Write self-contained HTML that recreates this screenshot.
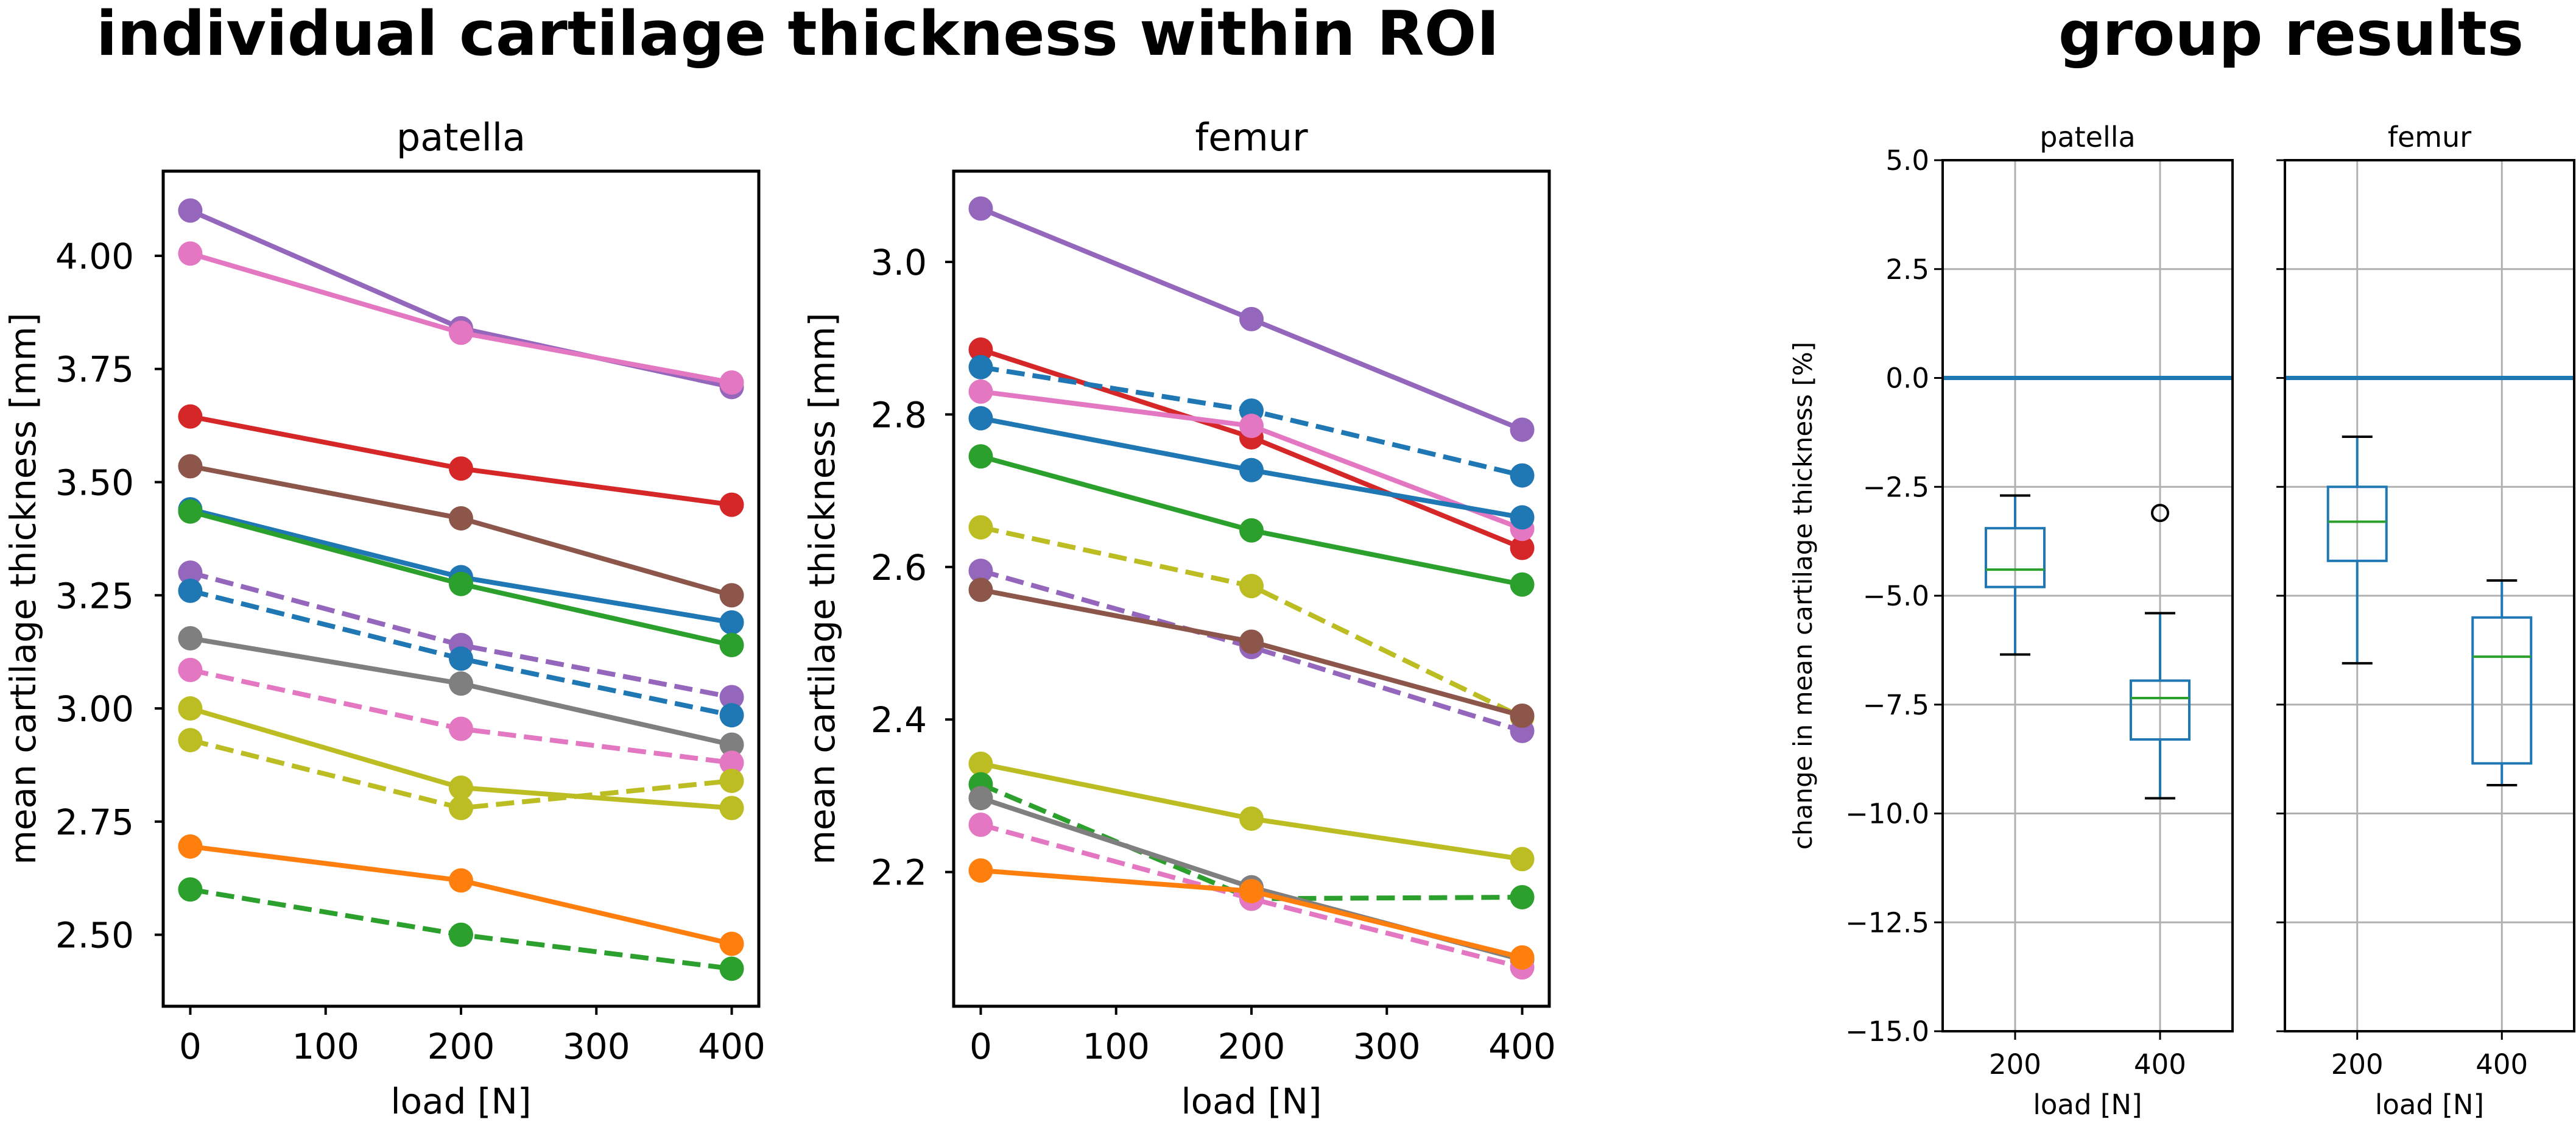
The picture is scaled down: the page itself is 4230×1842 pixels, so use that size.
<!DOCTYPE html>
<html><head><meta charset="utf-8"><style>
html,body{margin:0;padding:0;background:#fff}
svg{display:block;font-family:"DejaVu Sans","Liberation Sans",sans-serif}
</style></head><body>
<svg id="fig" width="4230" height="1842" viewBox="0 0 4230 1842" xmlns="http://www.w3.org/2000/svg">
<text x="1310" y="90" font-size="101" font-weight="bold" text-anchor="middle">individual cartilage thickness within ROI</text>
<text x="3762" y="90" font-size="101" font-weight="bold" text-anchor="middle">group results</text>
</svg>
<script>
const loads = [0, 200, 400];
const xTicks = [0, 100, 200, 300, 400];
const seriesNames = ["purple-solid","pink-solid","red","brown","blue-solid","green-solid","purple-dashed","blue-dashed","gray","pink-dashed","olive-solid","olive-dashed","orange","green-dashed"];
const seriesColors = ["#9467bd","#e377c2","#d62728","#8c564b","#1f77b4","#2ca02c","#9467bd","#1f77b4","#7f7f7f","#e377c2","#bcbd22","#bcbd22","#ff7f0e","#2ca02c"];
const seriesDashed = [false,false,false,false,false,false,true,true,false,true,false,true,false,true];
const patellaValues = [
 [4.10,3.84,3.71],[4.005,3.83,3.72],[3.645,3.53,3.45],[3.535,3.42,3.25],
 [3.44,3.29,3.19],[3.435,3.275,3.14],[3.30,3.14,3.025],[3.26,3.11,2.985],
 [3.155,3.055,2.92],[3.085,2.955,2.88],[3.00,2.825,2.78],[2.93,2.78,2.84],
 [2.695,2.62,2.48],[2.60,2.50,2.425]];
const femurSeriesNames = ["purple-solid","red","blue-dashed","pink-solid","blue-solid","green-solid","olive-dashed","purple-dashed","brown","olive-solid","green-dashed","gray","pink-dashed","orange"];
const femurColors = ["#9467bd","#d62728","#1f77b4","#e377c2","#1f77b4","#2ca02c","#bcbd22","#9467bd","#8c564b","#bcbd22","#2ca02c","#7f7f7f","#e377c2","#ff7f0e"];
const femurDashed = [false,false,true,false,false,false,true,true,false,false,true,false,true,false];
const femurValues = [
 [3.07,2.925,2.78],[2.885,2.77,2.625],[2.862,2.805,2.72],[2.83,2.785,2.65],
 [2.795,2.727,2.665],[2.745,2.648,2.577],[2.652,2.575,2.403],[2.595,2.495,2.385],
 [2.57,2.502,2.405],[2.342,2.27,2.217],[2.315,2.165,2.167],[2.297,2.18,2.085],
 [2.262,2.165,2.075],[2.202,2.175,2.088]];
const patellaYTicks = [2.50,2.75,3.00,3.25,3.50,3.75,4.00];
const patellaYLabels = ["2.50","2.75","3.00","3.25","3.50","3.75","4.00"];
const femurYTicks = [2.2,2.4,2.6,2.8,3.0];
const femurYLabels = ["2.2","2.4","2.6","2.8","3.0"];
const boxCategories = [200, 400];
const boxYTicks = [5.0,2.5,0.0,-2.5,-5.0,-7.5,-10.0,-12.5,-15.0];
const boxYLabels = ["5.0","2.5","0.0","\u22122.5","\u22125.0","\u22127.5","\u221210.0","\u221212.5","\u221215.0"];
// [whiskerLow, q1, median, q3, whiskerHigh]
const patellaBoxStats = [[-6.35,-4.8,-4.4,-3.45,-2.7],[-9.65,-8.3,-7.35,-6.95,-5.4]];
const patellaOutliers = [[],[-3.1]];
const femurBoxStats = [[-6.55,-4.2,-3.3,-2.5,-1.35],[-9.35,-8.85,-6.4,-5.5,-4.65]];
const femurOutliers = [[],[]];

const svg = document.getElementById('fig');
const NS = 'http://www.w3.org/2000/svg';
function mk(tag, attrs, parent){const e=document.createElementNS(NS,tag);for(const k in attrs)e.setAttribute(k,attrs[k]);(parent||svg).appendChild(e);return e;}
function lin(d0,d1,r0,r1){return v=>r0+(v-d0)*(r1-r0)/(d1-d0);}

function linePanel(name, L, R, T, B, yMin, yMax, yTicks, yLabels, vals, colors, dashed, names, title, showYLabel, labelRight){
  const g = mk('g',{});
  
  
  const x = lin(-20,420,L,R), y = lin(yMin,yMax,B,T);
  const t = mk('text',{x:(L+R)/2,y:T-34,'font-size':62,'text-anchor':'middle'},g); t.textContent=title;
  
  
  xTicks.forEach(v=>{
    mk('line',{x1:x(v),x2:x(v),y1:B,y2:B+14,stroke:'#000','stroke-width':4},g);
    const tl=mk('text',{x:x(v),y:B+86,'font-size':58,'text-anchor':'middle'},g); tl.textContent=v;
    
    
  });
  yTicks.forEach((v,i)=>{
    mk('line',{x1:L-14,x2:L,y1:y(v),y2:y(v),stroke:'#000','stroke-width':4},g);
    const tl=mk('text',{x:labelRight,y:y(v)+21,'font-size':58,'text-anchor':'end'},g); tl.textContent=yLabels[i];
    
    
  });
  const xl=mk('text',{x:(L+R)/2,y:B+176,'font-size':58,'text-anchor':'middle'},g); xl.textContent='load [N]';
  
  
  if(showYLabel!==null){
    const yl=mk('text',{x:0,y:0,'font-size':58,'text-anchor':'middle',transform:`translate(${showYLabel},${(T+B)/2}) rotate(-90)`},g);
    yl.textContent='mean cartilage thickness [mm]';
    
    
  }
  vals.forEach((s,i)=>{
    const sg=mk('g',{},g);
    
    
    const pts=s.map((v,j)=>x(loads[j])+','+y(v)).join(' ');
    const a={points:pts,fill:'none',stroke:colors[i],'stroke-width':8,'stroke-linejoin':'round'};
    if(dashed[i]) a['stroke-dasharray']='30,13';
    mk('polyline',a,sg);
    s.forEach((v,j)=>{
      const c=mk('circle',{cx:x(loads[j]),cy:y(v),r:20,fill:colors[i]},sg);
      
      
    });
  });
  const f=mk('rect',{x:L,y:T,width:R-L,height:B-T,fill:'none',stroke:'#000','stroke-width':5},g);
  
  
}
linePanel('patella',268,1246,281,1652,2.342,4.187,patellaYTicks,patellaYLabels,patellaValues,seriesColors,seriesDashed,seriesNames,'patella',58,220);
linePanel('femur',1566,2544,281,1652,2.024,3.119,femurYTicks,femurYLabels,femurValues,femurColors,femurDashed,femurSeriesNames,'femur',1370,1522);

function boxPanel(name, L, R, T, B, stats, outliers, title, showLabels){
  const g = mk('g',{});
  
  
  const x = lin(100,500,L,R), y = lin(-15,5,B,T);
  const t=mk('text',{x:(L+R)/2,y:T-22,'font-size':46,'text-anchor':'middle'},g); t.textContent=title;
  
  
  boxYTicks.forEach((v,i)=>{
    mk('line',{x1:L,x2:R,y1:y(v),y2:y(v),stroke:'#b0b0b0','stroke-width':3},g);
    mk('line',{x1:L-14,x2:L,y1:y(v),y2:y(v),stroke:'#000','stroke-width':3},g);
    if(showLabels){
      const tl=mk('text',{x:L-22,y:y(v)+16,'font-size':45,'text-anchor':'end'},g); tl.textContent=boxYLabels[i];
      
      
    }
  });
  boxCategories.forEach(c=>{
    mk('line',{x1:x(c),x2:x(c),y1:T,y2:B,stroke:'#b0b0b0','stroke-width':3},g);
    mk('line',{x1:x(c),x2:x(c),y1:B,y2:B+14,stroke:'#000','stroke-width':3},g);
    const tl=mk('text',{x:x(c),y:B+70,'font-size':45,'text-anchor':'middle'},g); tl.textContent=c;
    
    
  });
  const xl=mk('text',{x:(L+R)/2,y:B+136,'font-size':45,'text-anchor':'middle'},g); xl.textContent='load [N]';
  
  
  const zl=mk('line',{x1:L,x2:R,y1:y(0),y2:y(0),stroke:'#1f77b4','stroke-width':7},g);
  
  
  stats.forEach((s,i)=>{
    const cx=x(boxCategories[i]), hw=48, cw=25;
    const bg=mk('g',{},g);
    
    
    mk('line',{x1:cx,x2:cx,y1:y(s[0]),y2:y(s[1]),stroke:'#1f77b4','stroke-width':4},bg);
    mk('line',{x1:cx,x2:cx,y1:y(s[3]),y2:y(s[4]),stroke:'#1f77b4','stroke-width':4},bg);
    mk('line',{x1:cx-cw,x2:cx+cw,y1:y(s[0]),y2:y(s[0]),stroke:'#000','stroke-width':4},bg);
    mk('line',{x1:cx-cw,x2:cx+cw,y1:y(s[4]),y2:y(s[4]),stroke:'#000','stroke-width':4},bg);
    mk('rect',{x:cx-hw,y:y(s[3]),width:2*hw,height:y(s[1])-y(s[3]),fill:'none',stroke:'#1f77b4','stroke-width':4},bg);
    mk('line',{x1:cx-hw,x2:cx+hw,y1:y(s[2]),y2:y(s[2]),stroke:'#2ca02c','stroke-width':4},bg);
    outliers[i].forEach(o=>{
      const oc=mk('circle',{cx:cx,cy:y(o),r:13,fill:'none',stroke:'#000','stroke-width':4},bg);
      
      
    });
  });
  const f=mk('rect',{x:L,y:T,width:R-L,height:B-T,fill:'none',stroke:'#000','stroke-width':4},g);
  
  
}
boxPanel('patella',3190,3666,263,1693,patellaBoxStats,patellaOutliers,'patella',true);
boxPanel('femur',3752,4227,263,1693,femurBoxStats,femurOutliers,'femur',false);
const byl=mk('text',{x:0,y:0,'font-size':42,'text-anchor':'middle',transform:'translate(2975,978) rotate(-90)'});
byl.textContent='change in mean cartilage thickness [%]';


</script>
</body></html>
